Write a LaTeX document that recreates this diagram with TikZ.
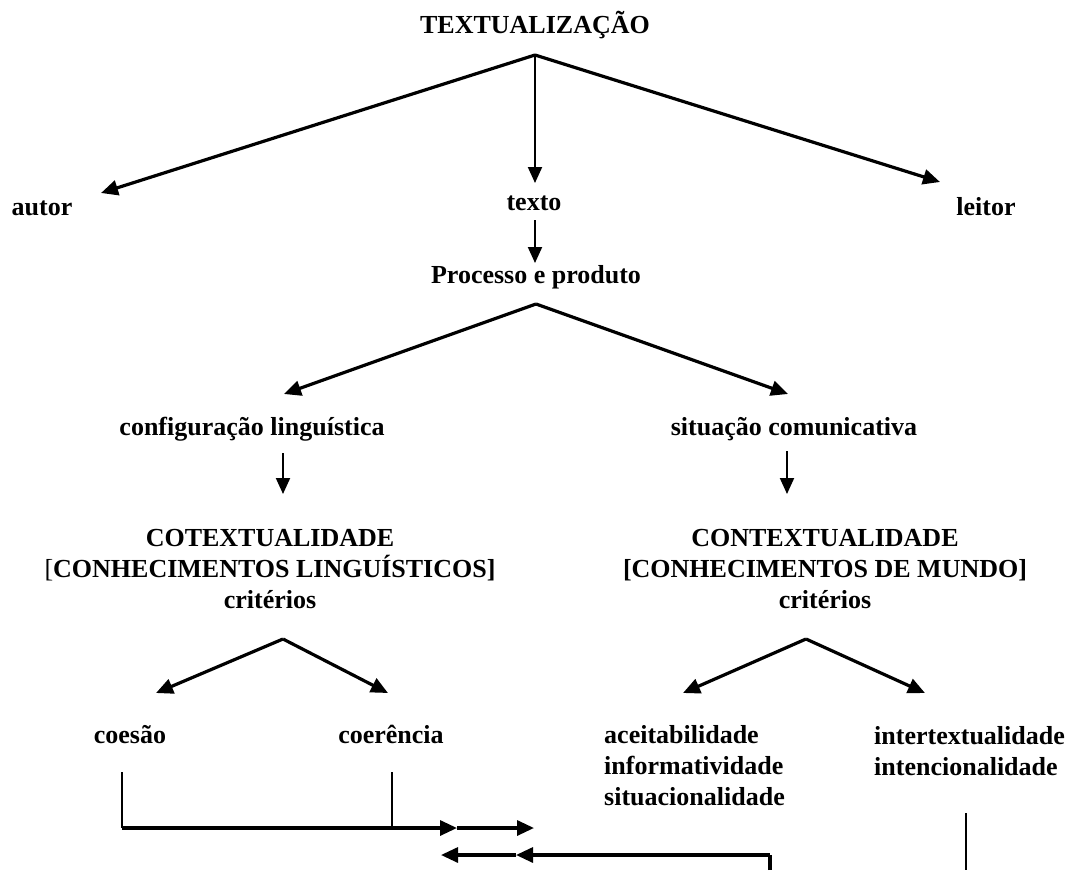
\documentclass[tikz,border=0pt]{standalone}
\usepackage{fontspec}
\setmainfont{Liberation Serif}
\usetikzlibrary{arrows.meta}

\tikzset{
    rotulo/.style={font=\fontsize{26}{31}\selectfont\bfseries, inner sep=0pt,
        text height=18pt, text depth=6pt},
    bloco/.style={font=\fontsize{26}{31}\selectfont\bfseries, inner sep=0pt},
    seta/.style={-{Triangle[length=17pt,width=15pt]}, line width=3.2pt},
    setafina/.style={-{Triangle[length=16pt,width=14pt]}, line width=2pt},
    traco/.style={line width=1.8pt},
    tracogrosso/.style={line width=3.2pt}
}

\begin{document}
\begin{tikzpicture}[x=1pt, y=-1pt]
        \useasboundingbox (0,0) rectangle (1073,870);

        % Topo
        \node[rotulo] (textualizacao) at (535,27) {TEXTUALIZAÇÃO};
        \node[rotulo] (autor) at (42,209) {autor};
        \node[rotulo] (texto) at (534,204) {texto};
        \node[rotulo] (leitor) at (986,209) {leitor};
        \node[rotulo] (processo) at (536,277) {Processo e produto};

        \coordinate (garfoTopo) at (535,55);
        \coordinate (pontaAutor) at (101,193);
        \coordinate (pontaTexto) at (535,183);
        \coordinate (pontaLeitor) at (940,182);
        \draw[seta] (garfoTopo) -- (pontaAutor);
        \draw[setafina] (garfoTopo) -- (pontaTexto);
        \draw[seta] (garfoTopo) -- (pontaLeitor);

        \coordinate (baseTexto) at (535,220);
        \coordinate (pontaProcesso) at (535,263);
        \draw[setafina] (baseTexto) -- (pontaProcesso);

        % Processo e produto
        \node[rotulo] (configuracao) at (252,429) {configuração linguística};
        \node[rotulo] (situacao) at (794,429) {situação comunicativa};

        \coordinate (garfoProcesso) at (536,304);
        \coordinate (pontaConfig) at (284,394);
        \coordinate (pontaSituacao) at (788,394);
        \draw[seta] (garfoProcesso) -- (pontaConfig);
        \draw[seta] (garfoProcesso) -- (pontaSituacao);

        % Setas curtas
        \coordinate (baseConfig) at (283,453);
        \coordinate (pontaCotext) at (283,494);
        \coordinate (baseSituacao) at (787,451);
        \coordinate (pontaContext) at (787,494);
        \draw[setafina] (baseConfig) -- (pontaCotext);
        \draw[setafina] (baseSituacao) -- (pontaContext);

        \node[bloco, align=center] (cotextualidade) at (270,569)
            {COTEXTUALIDADE\\{\mdseries[}CONHECIMENTOS LINGUÍSTICOS]\\critérios};
        \node[bloco, align=center] (contextualidade) at (825,569)
            {CONTEXTUALIDADE\\{}[CONHECIMENTOS DE MUNDO]\\critérios};

        % Criterios
        \coordinate (garfoCotext) at (283,639);
        \coordinate (pontaCoesao) at (156,693);
        \coordinate (pontaCoerencia) at (388,693);
        \draw[seta] (garfoCotext) -- (pontaCoesao);
        \draw[seta] (garfoCotext) -- (pontaCoerencia);

        \coordinate (garfoContext) at (806,639);
        \coordinate (pontaAceit) at (683,693);
        \coordinate (pontaIntert) at (925,693);
        \draw[seta] (garfoContext) -- (pontaAceit);
        \draw[seta] (garfoContext) -- (pontaIntert);

        \node[rotulo] (coesao) at (130,737) {coesão};
        \node[rotulo] (coerencia) at (391,737) {coerência};
        \node[bloco, align=left, anchor=west] (aceitabilidade) at (604,766)
            {aceitabilidade\\informatividade\\situacionalidade};
        \node[bloco, align=left, anchor=west] (intertextualidade) at (874,751)
            {intertextualidade\\intencionalidade};

        % Ligacoes de baixo
        \coordinate (baseCoesao) at (122,772);
        \coordinate (cantoCoesao) at (122,828);
        \coordinate (baseCoerencia) at (392,772);
        \coordinate (juncaoCoerencia) at (392,828);
        \coordinate (setaIda1) at (457,828);
        \coordinate (setaIda2) at (534,828);
        \draw[traco] (baseCoesao) -- (cantoCoesao);
        \draw[traco] (baseCoerencia) -- (juncaoCoerencia);
        \draw[seta] (cantoCoesao) -- (setaIda1);
        \draw[seta] (setaIda1) -- (setaIda2);

        \coordinate (fundoVolta) at (770,870);
        \coordinate (cantoVolta) at (770,855);
        \coordinate (setaVolta1) at (516,855);
        \coordinate (setaVolta2) at (441,855);
        \draw[tracogrosso] (fundoVolta) -- (cantoVolta);
        \draw[seta] (cantoVolta) -- (setaVolta1);
        \draw[seta] (setaVolta1) -- (setaVolta2);

        \coordinate (topoDireita) at (966,813);
        \coordinate (fundoDireita) at (966,870);
        \draw[traco] (topoDireita) -- (fundoDireita);
    \end{tikzpicture}
\end{document}
